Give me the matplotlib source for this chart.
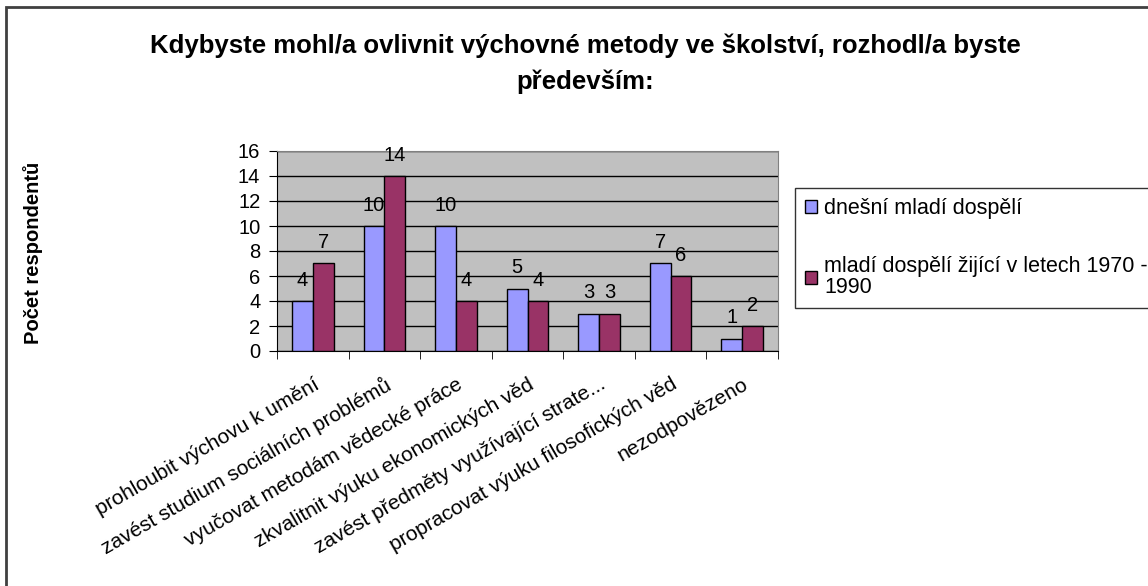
import numpy as np
import matplotlib.pyplot as plt
from matplotlib.patches import Rectangle

plt.rcParams['font.family'] = ['Liberation Sans', 'DejaVu Sans']

categories = ['prohloubit výchovu k umění', 'zavést studium sociálních problémů',
              'vyučovat metodám vědecké práce', 'zkvalitnit výuku ekonomických věd',
              'zavést předměty využívající strate...', 'propracovat výuku filosofických věd',
              'nezodpovězeno']
dnesni = [4, 10, 10, 5, 3, 7, 1]
mladi_1970 = [7, 14, 4, 4, 3, 6, 2]
series_names = ['dnešní mladí dospělí', 'mladí dospělí žijící v letech 1970 -\n1990']

fig = plt.figure(figsize=(11.48, 5.86), dpi=100)
ax = fig.add_axes([277/1148, 1 - 351/586, 501/1148, 200/586])
ax.set_facecolor('#C0C0C0')

x = np.arange(len(categories))
w = 0.29
b1 = ax.bar(x - w/2, dnesni, w, color='#9999FF', edgecolor='black', linewidth=1,
            label=series_names[0], zorder=3)
b2 = ax.bar(x + w/2, mladi_1970, w, color='#993366', edgecolor='black', linewidth=1,
            label=series_names[1], zorder=3)
for bars in (b1, b2):
    for r in bars:
        ax.annotate(str(int(r.get_height())), (r.get_x() + r.get_width()/2, r.get_height()),
                    xytext=(0, 8), textcoords='offset points',
                    ha='center', va='bottom', fontsize=14.5, zorder=4)

ax.set_xlim(-0.5, len(categories) - 0.5)
ax.set_ylim(0, 16)
ax.set_yticks(range(0, 17, 2))
ax.yaxis.grid(True, color='black', linewidth=1, zorder=1)
ax.tick_params(axis='y', labelsize=14.5, length=6, direction='out', pad=6)

ax.set_xticks(x)
ax.set_xticklabels(categories, rotation=30, ha='right', rotation_mode='anchor', fontsize=15)
ax.tick_params(axis='x', which='major', length=0, pad=17)
ax.set_xticks(np.arange(-0.5, len(categories)), minor=True)
ax.tick_params(axis='x', which='minor', length=6, direction='out')

for s in ('top', 'right'):
    ax.spines[s].set_color('#808080')
for s in ('left', 'bottom'):
    ax.spines[s].set_color('black')

ax.set_ylabel('Počet respondentů', fontsize=14.5, fontweight='bold')
ax.yaxis.set_label_coords((43 - 277) / 501, 0.49)

fig.text(585/1148, 1 - 46/586, 'Kdybyste mohl/a ovlivnit výchovné metody ve školství, rozhodl/a byste',
         ha='center', va='center', fontsize=18.5, fontweight='bold')
fig.text(585/1148, 1 - 82/586, 'především:', ha='center', va='center', fontsize=18.5, fontweight='bold')

leg = fig.legend(handles=[b1, b2], loc='upper left', bbox_to_anchor=(795/1148, 1 - 188/586),
                 fontsize=15.5, frameon=True, fancybox=False, edgecolor='black',
                 handlelength=0.55, handleheight=0.55, handletextpad=0.35,
                 labelspacing=1.75, borderpad=0.45, borderaxespad=0)
leg.get_frame().set_linewidth(1)
for t in leg.get_texts():
    t.set_linespacing(1.0)

fig.patches.append(Rectangle((6/1148, -0.1), 1.2, 1 - 7/586 + 0.1, transform=fig.transFigure,
                             fill=False, edgecolor='#404040', linewidth=2))

fig.savefig('out.png', dpi=100)
